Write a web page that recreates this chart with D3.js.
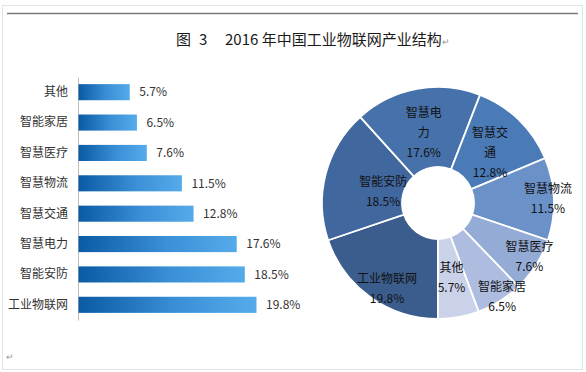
<!DOCTYPE html>
<html>
<head>
<meta charset="utf-8">
<script src="https://cdn.jsdelivr.net/npm/d3@7"></script>
<style>
  html, body { margin: 0; padding: 0; background: #fff; }
  svg { display: block; }
</style>
</head>
<body>
<script>
// bar chart, top to bottom
const barCategories = ['其他', '智能家居', '智慧医疗', '智慧物流', '智慧交通', '智慧电力', '智能安防', '工业物联网']
const barValues = [5.7, 6.5, 7.6, 11.5, 12.8, 17.6, 18.5, 19.8]

// donut, clockwise from 6 o'clock
const pieCategories = ['工业物联网', '智能安防', '智慧电力', '智慧交通', '智慧物流', '智慧医疗', '智能家居', '其他']
const pieValues = [19.8, 18.5, 17.6, 12.8, 11.5, 7.6, 6.5, 5.7]
const pieColors = ['#3b5d8d', '#40679e', '#4671aa', '#4a7bb7', '#6b91c9', '#93abd5', '#aebddf', '#c9d2e9']

// label placement inside the donut: radius, angle nudge (deg), chars per line
const labelLayout = [
  { r: 100, da: -5, wrap: 5 },
  { r: 56, da: -3, wrap: 5 },
  { r: 72, da: -1, wrap: 3 },
  { r: 72, da: 2, wrap: 3 },
  { r: 110, da: 0, wrap: 5 },
  { r: 106, da: -2, wrap: 5 },
  { r: 114, da: -2, wrap: 5 },
  { r: 76, da: 0, wrap: 5 }
]

const width = 586
const height = 372
const font = '"Noto Sans CJK SC", "Noto Sans", sans-serif'

const svg = d3.select('body').append('svg')
  .attr('width', width)
  .attr('height', height)

// frame
svg.append('rect')
  .attr('x', 2.5).attr('y', 5.5)
  .attr('width', 580).attr('height', 364)
  .attr('fill', 'none')
  .attr('stroke', '#e3e3e3')

svg.append('line')
  .attr('x1', 7).attr('x2', 578)
  .attr('y1', 13.5).attr('y2', 13.5)
  .attr('stroke', '#7a7a7a')
  .attr('stroke-width', 1.5)

// title (pieces placed like the Word caption, with its wide gaps)
const title = svg.append('text')
  .attr('y', 45)
  .attr('font-family', font)
  .attr('font-size', 15)
  .attr('fill', '#1a1a1a')
title.append('tspan').attr('x', 176).text('图')
title.append('tspan').attr('x', 199).text('3')
title.append('tspan').attr('x', 225).text('2016 年中国工业物联网产业结构')
title.append('tspan').attr('font-size', 9).attr('fill', '#999').text('↵')

svg.append('text')
  .attr('x', 6).attr('y', 360)
  .attr('font-family', font)
  .attr('font-size', 9)
  .attr('fill', '#999')
  .text('↵')

// bar gradient
const grad = svg.append('defs').append('linearGradient')
  .attr('id', 'barGrad')
  .attr('x1', '0%').attr('x2', '100%')
  .attr('y1', '0%').attr('y2', '0%')
grad.append('stop').attr('offset', '0%').attr('stop-color', '#0a5aa4')
grad.append('stop').attr('offset', '55%').attr('stop-color', '#3a8fd6')
grad.append('stop').attr('offset', '100%').attr('stop-color', '#55abea')

// bar chart
const y = d3.scaleBand()
  .domain(barCategories)
  .range([77, 320])
  .paddingInner(0.47)
  .paddingOuter(0.235)

const x = d3.scaleLinear()
  .domain([0, 19.8])
  .range([78, 256])

const yAxis = svg.append('g')
  .attr('transform', 'translate(78,0)')
  .call(d3.axisLeft(y).tickSize(0).tickPadding(10))
yAxis.select('.domain').attr('stroke', '#bdbdbd')
yAxis.selectAll('text')
  .attr('font-family', font)
  .attr('font-size', 12)
  .attr('fill', '#333')

svg.append('g').selectAll('rect')
  .data(barValues)
  .join('rect')
  .attr('x', x(0) + 0.5)
  .attr('y', (d, i) => y(barCategories[i]))
  .attr('width', d => x(d) - x(0))
  .attr('height', y.bandwidth())
  .attr('fill', 'url(#barGrad)')

svg.append('g').selectAll('text')
  .data(barValues)
  .join('text')
  .attr('x', d => x(d) + 10)
  .attr('y', (d, i) => y(barCategories[i]) + y.bandwidth() / 2)
  .attr('dy', '0.35em')
  .attr('font-family', font)
  .attr('font-size', 12)
  .attr('fill', '#333')
  .text(d => d.toFixed(1) + '%')

// donut
const cx = 438
const cy = 203
const pie = d3.pie().sort(null).startAngle(Math.PI).endAngle(3 * Math.PI)
const arcs = pie(pieValues)
const arc = d3.arc().innerRadius(36).outerRadius(116)

const donut = svg.append('g').attr('transform', `translate(${cx},${cy})`)

donut.selectAll('path')
  .data(arcs)
  .join('path')
  .attr('d', arc)
  .attr('fill', (d, i) => pieColors[i])
  .attr('stroke', '#fff')
  .attr('stroke-width', 1.8)

function wrapLabel(name, n) {
  const lines = []
  for (let k = 0; k < name.length; k += n) lines.push(name.slice(k, k + n))
  return lines
}

const labels = donut.selectAll('g.lbl')
  .data(arcs)
  .join('g')
  .attr('class', 'lbl')
  .attr('transform', (d, i) => {
    const L = labelLayout[i]
    const a = (d.startAngle + d.endAngle) / 2 + L.da * Math.PI / 180
    return `translate(${L.r * Math.sin(a)},${-L.r * Math.cos(a)})`
  })

labels.each(function (d, i) {
  const lines = wrapLabel(pieCategories[i], labelLayout[i].wrap)
  lines.push(d.data.toFixed(1) + '%')
  const lh = 20
  const t = d3.select(this).append('text')
    .attr('text-anchor', 'middle')
    .attr('font-family', font)
    .attr('font-size', 12)
    .attr('fill', '#111')
  lines.forEach((s, k) => {
    t.append('tspan')
      .attr('x', 0)
      .attr('y', (k - (lines.length - 1) / 2) * lh)
      .attr('dy', '0.35em')
      .text(s)
  })
})
</script>
</body>
</html>
